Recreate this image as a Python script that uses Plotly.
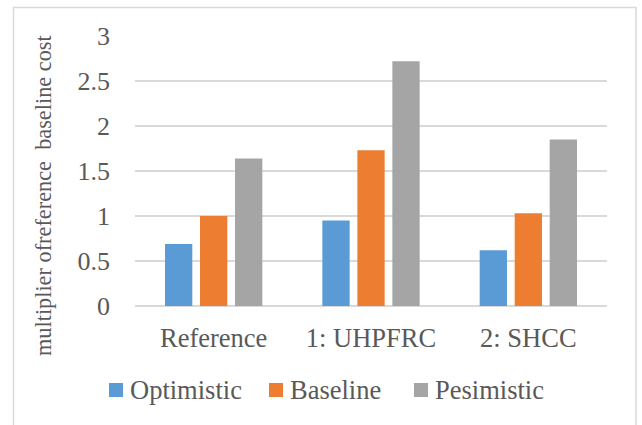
import plotly.graph_objects as go

# Cost multipliers relative to the reference baseline
categories = ["Reference", "1: UHPFRC", "2: SHCC"]
optimistic = [0.69, 0.95, 0.62]
baseline = [1.00, 1.73, 1.03]
pesimistic = [1.64, 2.72, 1.85]

series_names = ["Optimistic", "Baseline", "Pesimistic"]
series_values = [optimistic, baseline, pesimistic]
series_colors = ["#5B9BD5", "#ED7D31", "#A5A5A5"]
y_title = "multiplier ofreference  baseline cost"

FONT = "Liberation Serif, Times New Roman, serif"
TEXT = "#595959"
GRID = "#D9D9D9"

# plot area in pixels: x 135..607, y 36..306
L, R, T, B = 135, 35, 36, 119
W, H = 642, 425
PW, PH = W - L - R, H - T - B


def px_x(x):
    return (x - L) / PW


def px_y(y):
    return (H - B - y) / PH


fig = go.Figure()
for name, vals, color in zip(series_names, series_values, series_colors):
    fig.add_trace(go.Bar(
        name=name, x=categories, y=vals,
        marker=dict(color=color, line=dict(width=0)),
    ))

# horizontal legend below the plot: square swatch followed by its label
legend_left = [109, 269, 414]
legend_cy = 390
shapes = []
annotations = []
for name, color, lx in zip(series_names, series_colors, legend_left):
    shapes.append(dict(
        type="rect", xref="paper", yref="paper",
        x0=px_x(lx), x1=px_x(lx + 14), y0=px_y(legend_cy + 7), y1=px_y(legend_cy - 7),
        fillcolor=color, line=dict(width=0),
    ))
    annotations.append(dict(
        text=name, xref="paper", yref="paper", x=px_x(lx + 19), y=px_y(legend_cy),
        xanchor="left", yanchor="middle", showarrow=False,
        font=dict(family=FONT, size=26.5, color=TEXT),
    ))

# rotated value-axis title
annotations.append(dict(
    text=y_title, xref="paper", yref="paper", x=px_x(43), y=px_y(196),
    xanchor="center", yanchor="middle", textangle=-90, showarrow=False,
    font=dict(family=FONT, size=22.3, color=TEXT),
))

# light frame around the whole chart
shapes.append(dict(
    type="rect", xref="paper", yref="paper",
    x0=px_x(13.5), x1=px_x(636), y0=px_y(430), y1=px_y(7.5),
    line=dict(color=GRID, width=1.5), fillcolor="rgba(0,0,0,0)", layer="below",
))

fig.update_layout(
    width=W, height=H,
    margin=dict(l=L, r=R, t=T, b=B),
    paper_bgcolor="white", plot_bgcolor="white",
    barmode="group", bargap=0.3325, bargroupgap=0.22,
    font=dict(family=FONT, color=TEXT, size=25),
    showlegend=False,
    xaxis=dict(
        showgrid=False, showline=False, zeroline=False,
        tickfont=dict(family=FONT, size=26.5, color=TEXT),
        ticklabelstandoff=13,
    ),
    yaxis=dict(
        range=[0, 3], dtick=0.5, tickformat="~g",
        showgrid=True, gridcolor=GRID, gridwidth=1.8,
        zeroline=True, zerolinecolor=GRID, zerolinewidth=1.8,
        showline=False,
        tickfont=dict(family=FONT, size=26, color=TEXT),
        ticklabelstandoff=24,
    ),
    shapes=shapes,
    annotations=annotations,
)

fig.write_html("out.html")
